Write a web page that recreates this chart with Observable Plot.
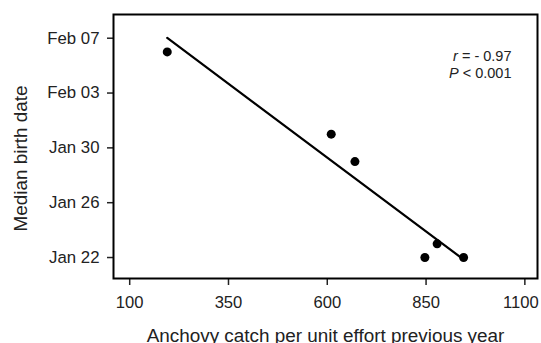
<!DOCTYPE html>
<html>
<head>
<meta charset="utf-8">
<script src="https://cdn.jsdelivr.net/npm/d3@7"></script>
<script src="https://cdn.jsdelivr.net/npm/@observablehq/plot@0.6"></script>
<style>
  html, body { margin: 0; padding: 0; background: #fff; }
  svg { font-family: "Liberation Sans", Arial, Helvetica, sans-serif; }
</style>
</head>
<body>
<div id="chart"></div>
<script>
// Data
const catchPerEffort = [195, 610, 670, 847, 878, 945];
const medianBirthDate = ["Feb 06", "Jan 31", "Jan 29", "Jan 22", "Jan 23", "Jan 22"];
const yTickLabels = ["Jan 22", "Jan 26", "Jan 30", "Feb 03", "Feb 07"];
const xTicks = [100, 350, 600, 850, 1100];
const annotation = ["r = - 0.97", "P < 0.001"];

const parse = d3.timeParse("%Y %b %d");
const base = new Date(2000, 0, 1);
const toDay = (s) => d3.timeDay.count(base, parse("2000 " + s)) + 1;
const fmt = d3.timeFormat("%b %d");
const fromDay = (n) => fmt(d3.timeDay.offset(base, n - 1));

const data = catchPerEffort.map((x, i) => ({x, y: toDay(medianBirthDate[i])}));
const yTicks = yTickLabels.map(toDay);

const plot = Plot.plot({
  width: 541,
  height: 343,
  marginLeft: 113,
  marginRight: 4,
  marginTop: 14,
  marginBottom: 65,
  x: {domain: [59, 1132]},
  y: {domain: [yTicks[0] - 1.53, yTicks[yTicks.length - 1] + 1.73]},
  marks: [
    Plot.axisX({
      ticks: xTicks, tickFormat: d3.format("d"), tickSize: 7, tickPadding: 11, fontSize: 16.6, strokeWidth: 1.5,
      label: "Anchovy catch per unit effort previous year", labelAnchor: "center",
      labelArrow: "none", labelOffset: 63, color: "#222"
    }),
    Plot.axisY({
      ticks: yTicks, tickFormat: fromDay, tickSize: 6, tickPadding: 8, fontSize: 16.8, strokeWidth: 1.5,
      label: "Median birth date", labelAnchor: "center", labelArrow: "none", labelOffset: 100, color: "#222"
    }),
    Plot.frame({stroke: "black", strokeWidth: 2}),
    Plot.linearRegressionY(data, {x: "x", y: "y", ci: 0, stroke: "black", strokeWidth: 2.2}),
    Plot.dot(data, {x: "x", y: "y", r: 4.5, fill: "black", stroke: "none"}),
    Plot.text([annotation.join("\n")], {
      frameAnchor: "top-right", dx: -26, dy: 34, textAnchor: "end", lineAnchor: "top",
      fontSize: 14.5, lineHeight: 1.2, fill: "#222"
    })
  ]
});

// Styling tweaks: larger axis titles, italic statistic symbols, edge label nudges
const svg = d3.select(plot);
svg.selectAll('g[aria-label$="axis label"]').attr("font-size", 18.9);
const yl = svg.select('g[aria-label="y-axis label"]');
yl.attr("transform", (yl.attr("transform") || "") + " translate(0,12)");
svg.select('g[aria-label="x-axis tick label"]').selectAll("text")
  .filter((d, i, nodes) => i === nodes.length - 1)
  .attr("dx", -4);
svg.selectAll('g[aria-label="text"] tspan').each(function() {
  const t = this.textContent;
  const sel = d3.select(this);
  sel.text(null);
  sel.append("tspan").attr("font-style", "italic").text(t[0]);
  sel.append("tspan").text(t.slice(1));
});

document.getElementById("chart").appendChild(plot);
</script>
</body>
</html>
